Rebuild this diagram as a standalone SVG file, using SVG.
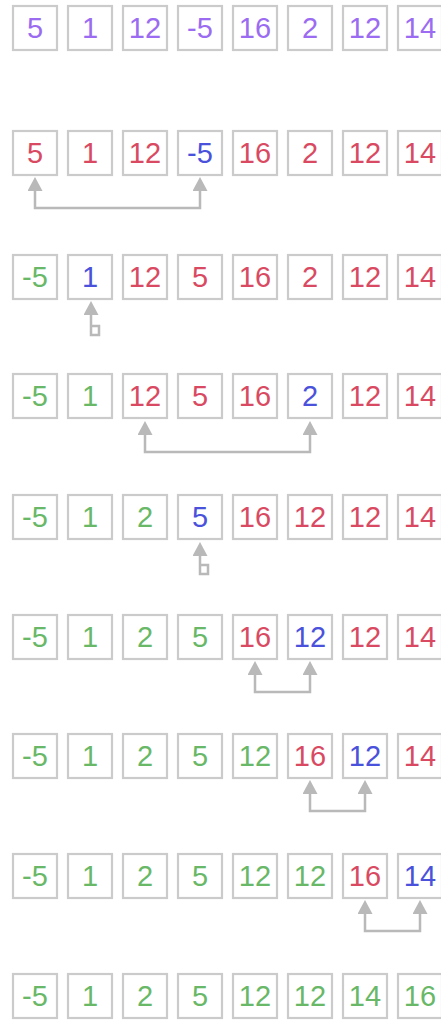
<svg xmlns="http://www.w3.org/2000/svg" width="441" height="1020" viewBox="0 0 441 1020">
<style>
.b{fill:#fff;stroke:#cbcbcb;stroke-width:2.2}
text{font-family:"Liberation Sans",Arial,sans-serif;font-size:29px;text-anchor:middle}
.p{fill:#9b6cf2}.r{fill:#d94a62}.u{fill:#4a52dc}.g{fill:#68b868}
.c{fill:none;stroke:#b9b9b9;stroke-width:2.5}
</style>
<defs>
<marker id="ah" viewBox="0 0 14 15" refX="0" refY="7.5" markerUnits="userSpaceOnUse" markerWidth="14" markerHeight="15" orient="auto-start-reverse"><path d="M0,0 L14,7.5 L0,15 z" fill="#b9b9b9"/></marker>
</defs>
<rect width="441" height="1020" fill="#fff"/>
<g id="row1">
<g id="n1_1"><rect class="b" x="13" y="6" width="44" height="44"/><text class="p" x="35" y="38">5</text></g>
<g id="n1_2"><rect class="b" x="68" y="6" width="44" height="44"/><text class="p" x="90" y="38">1</text></g>
<g id="n1_3"><rect class="b" x="123" y="6" width="44" height="44"/><text class="p" x="145" y="38">12</text></g>
<g id="n1_4"><rect class="b" x="178" y="6" width="44" height="44"/><text class="p" x="200" y="38">-5</text></g>
<g id="n1_5"><rect class="b" x="233" y="6" width="44" height="44"/><text class="p" x="255" y="38">16</text></g>
<g id="n1_6"><rect class="b" x="288" y="6" width="44" height="44"/><text class="p" x="310" y="38">2</text></g>
<g id="n1_7"><rect class="b" x="343" y="6" width="44" height="44"/><text class="p" x="365" y="38">12</text></g>
<g id="n1_8"><rect class="b" x="398" y="6" width="44" height="44"/><text class="p" x="420" y="38">14</text></g>
</g>
<g id="row2">
<g id="n2_1"><rect class="b" x="13" y="131" width="44" height="44"/><text class="r" x="35" y="163">5</text></g>
<g id="n2_2"><rect class="b" x="68" y="131" width="44" height="44"/><text class="r" x="90" y="163">1</text></g>
<g id="n2_3"><rect class="b" x="123" y="131" width="44" height="44"/><text class="r" x="145" y="163">12</text></g>
<g id="n2_4"><rect class="b" x="178" y="131" width="44" height="44"/><text class="u" x="200" y="163">-5</text></g>
<g id="n2_5"><rect class="b" x="233" y="131" width="44" height="44"/><text class="r" x="255" y="163">16</text></g>
<g id="n2_6"><rect class="b" x="288" y="131" width="44" height="44"/><text class="r" x="310" y="163">2</text></g>
<g id="n2_7"><rect class="b" x="343" y="131" width="44" height="44"/><text class="r" x="365" y="163">12</text></g>
<g id="n2_8"><rect class="b" x="398" y="131" width="44" height="44"/><text class="r" x="420" y="163">14</text></g>
</g>
<g id="row3">
<g id="n3_1"><rect class="b" x="13" y="255" width="44" height="44"/><text class="g" x="35" y="287">-5</text></g>
<g id="n3_2"><rect class="b" x="68" y="255" width="44" height="44"/><text class="u" x="90" y="287">1</text></g>
<g id="n3_3"><rect class="b" x="123" y="255" width="44" height="44"/><text class="r" x="145" y="287">12</text></g>
<g id="n3_4"><rect class="b" x="178" y="255" width="44" height="44"/><text class="r" x="200" y="287">5</text></g>
<g id="n3_5"><rect class="b" x="233" y="255" width="44" height="44"/><text class="r" x="255" y="287">16</text></g>
<g id="n3_6"><rect class="b" x="288" y="255" width="44" height="44"/><text class="r" x="310" y="287">2</text></g>
<g id="n3_7"><rect class="b" x="343" y="255" width="44" height="44"/><text class="r" x="365" y="287">12</text></g>
<g id="n3_8"><rect class="b" x="398" y="255" width="44" height="44"/><text class="r" x="420" y="287">14</text></g>
</g>
<g id="row4">
<g id="n4_1"><rect class="b" x="13" y="374" width="44" height="44"/><text class="g" x="35" y="406">-5</text></g>
<g id="n4_2"><rect class="b" x="68" y="374" width="44" height="44"/><text class="g" x="90" y="406">1</text></g>
<g id="n4_3"><rect class="b" x="123" y="374" width="44" height="44"/><text class="r" x="145" y="406">12</text></g>
<g id="n4_4"><rect class="b" x="178" y="374" width="44" height="44"/><text class="r" x="200" y="406">5</text></g>
<g id="n4_5"><rect class="b" x="233" y="374" width="44" height="44"/><text class="r" x="255" y="406">16</text></g>
<g id="n4_6"><rect class="b" x="288" y="374" width="44" height="44"/><text class="u" x="310" y="406">2</text></g>
<g id="n4_7"><rect class="b" x="343" y="374" width="44" height="44"/><text class="r" x="365" y="406">12</text></g>
<g id="n4_8"><rect class="b" x="398" y="374" width="44" height="44"/><text class="r" x="420" y="406">14</text></g>
</g>
<g id="row5">
<g id="n5_1"><rect class="b" x="13" y="495" width="44" height="44"/><text class="g" x="35" y="527">-5</text></g>
<g id="n5_2"><rect class="b" x="68" y="495" width="44" height="44"/><text class="g" x="90" y="527">1</text></g>
<g id="n5_3"><rect class="b" x="123" y="495" width="44" height="44"/><text class="g" x="145" y="527">2</text></g>
<g id="n5_4"><rect class="b" x="178" y="495" width="44" height="44"/><text class="u" x="200" y="527">5</text></g>
<g id="n5_5"><rect class="b" x="233" y="495" width="44" height="44"/><text class="r" x="255" y="527">16</text></g>
<g id="n5_6"><rect class="b" x="288" y="495" width="44" height="44"/><text class="r" x="310" y="527">12</text></g>
<g id="n5_7"><rect class="b" x="343" y="495" width="44" height="44"/><text class="r" x="365" y="527">12</text></g>
<g id="n5_8"><rect class="b" x="398" y="495" width="44" height="44"/><text class="r" x="420" y="527">14</text></g>
</g>
<g id="row6">
<g id="n6_1"><rect class="b" x="13" y="615" width="44" height="44"/><text class="g" x="35" y="647">-5</text></g>
<g id="n6_2"><rect class="b" x="68" y="615" width="44" height="44"/><text class="g" x="90" y="647">1</text></g>
<g id="n6_3"><rect class="b" x="123" y="615" width="44" height="44"/><text class="g" x="145" y="647">2</text></g>
<g id="n6_4"><rect class="b" x="178" y="615" width="44" height="44"/><text class="g" x="200" y="647">5</text></g>
<g id="n6_5"><rect class="b" x="233" y="615" width="44" height="44"/><text class="r" x="255" y="647">16</text></g>
<g id="n6_6"><rect class="b" x="288" y="615" width="44" height="44"/><text class="u" x="310" y="647">12</text></g>
<g id="n6_7"><rect class="b" x="343" y="615" width="44" height="44"/><text class="r" x="365" y="647">12</text></g>
<g id="n6_8"><rect class="b" x="398" y="615" width="44" height="44"/><text class="r" x="420" y="647">14</text></g>
</g>
<g id="row7">
<g id="n7_1"><rect class="b" x="13" y="734" width="44" height="44"/><text class="g" x="35" y="766">-5</text></g>
<g id="n7_2"><rect class="b" x="68" y="734" width="44" height="44"/><text class="g" x="90" y="766">1</text></g>
<g id="n7_3"><rect class="b" x="123" y="734" width="44" height="44"/><text class="g" x="145" y="766">2</text></g>
<g id="n7_4"><rect class="b" x="178" y="734" width="44" height="44"/><text class="g" x="200" y="766">5</text></g>
<g id="n7_5"><rect class="b" x="233" y="734" width="44" height="44"/><text class="g" x="255" y="766">12</text></g>
<g id="n7_6"><rect class="b" x="288" y="734" width="44" height="44"/><text class="r" x="310" y="766">16</text></g>
<g id="n7_7"><rect class="b" x="343" y="734" width="44" height="44"/><text class="u" x="365" y="766">12</text></g>
<g id="n7_8"><rect class="b" x="398" y="734" width="44" height="44"/><text class="r" x="420" y="766">14</text></g>
</g>
<g id="row8">
<g id="n8_1"><rect class="b" x="13" y="854" width="44" height="44"/><text class="g" x="35" y="886">-5</text></g>
<g id="n8_2"><rect class="b" x="68" y="854" width="44" height="44"/><text class="g" x="90" y="886">1</text></g>
<g id="n8_3"><rect class="b" x="123" y="854" width="44" height="44"/><text class="g" x="145" y="886">2</text></g>
<g id="n8_4"><rect class="b" x="178" y="854" width="44" height="44"/><text class="g" x="200" y="886">5</text></g>
<g id="n8_5"><rect class="b" x="233" y="854" width="44" height="44"/><text class="g" x="255" y="886">12</text></g>
<g id="n8_6"><rect class="b" x="288" y="854" width="44" height="44"/><text class="g" x="310" y="886">12</text></g>
<g id="n8_7"><rect class="b" x="343" y="854" width="44" height="44"/><text class="r" x="365" y="886">16</text></g>
<g id="n8_8"><rect class="b" x="398" y="854" width="44" height="44"/><text class="u" x="420" y="886">14</text></g>
</g>
<g id="row9">
<g id="n9_1"><rect class="b" x="13" y="974" width="44" height="44"/><text class="g" x="35" y="1006">-5</text></g>
<g id="n9_2"><rect class="b" x="68" y="974" width="44" height="44"/><text class="g" x="90" y="1006">1</text></g>
<g id="n9_3"><rect class="b" x="123" y="974" width="44" height="44"/><text class="g" x="145" y="1006">2</text></g>
<g id="n9_4"><rect class="b" x="178" y="974" width="44" height="44"/><text class="g" x="200" y="1006">5</text></g>
<g id="n9_5"><rect class="b" x="233" y="974" width="44" height="44"/><text class="g" x="255" y="1006">12</text></g>
<g id="n9_6"><rect class="b" x="288" y="974" width="44" height="44"/><text class="g" x="310" y="1006">12</text></g>
<g id="n9_7"><rect class="b" x="343" y="974" width="44" height="44"/><text class="g" x="365" y="1006">14</text></g>
<g id="n9_8"><rect class="b" x="398" y="974" width="44" height="44"/><text class="g" x="420" y="1006">16</text></g>
</g>
<g id="connectors">
<path class="c" d="M35,191 V208 H200 V191" marker-start="url(#ah)" marker-end="url(#ah)"/>
<path class="c" d="M91,315 V335 H99 V326 H91" marker-start="url(#ah)"/>
<path class="c" d="M145,435 V452 H310 V435" marker-start="url(#ah)" marker-end="url(#ah)"/>
<path class="c" d="M200,556 V574 H208 V565 H200" marker-start="url(#ah)"/>
<path class="c" d="M255,675 V692 H310 V675" marker-start="url(#ah)" marker-end="url(#ah)"/>
<path class="c" d="M310,794 V811 H365 V794" marker-start="url(#ah)" marker-end="url(#ah)"/>
<path class="c" d="M365,914 V931 H420 V914" marker-start="url(#ah)" marker-end="url(#ah)"/>
</g>
</svg>
